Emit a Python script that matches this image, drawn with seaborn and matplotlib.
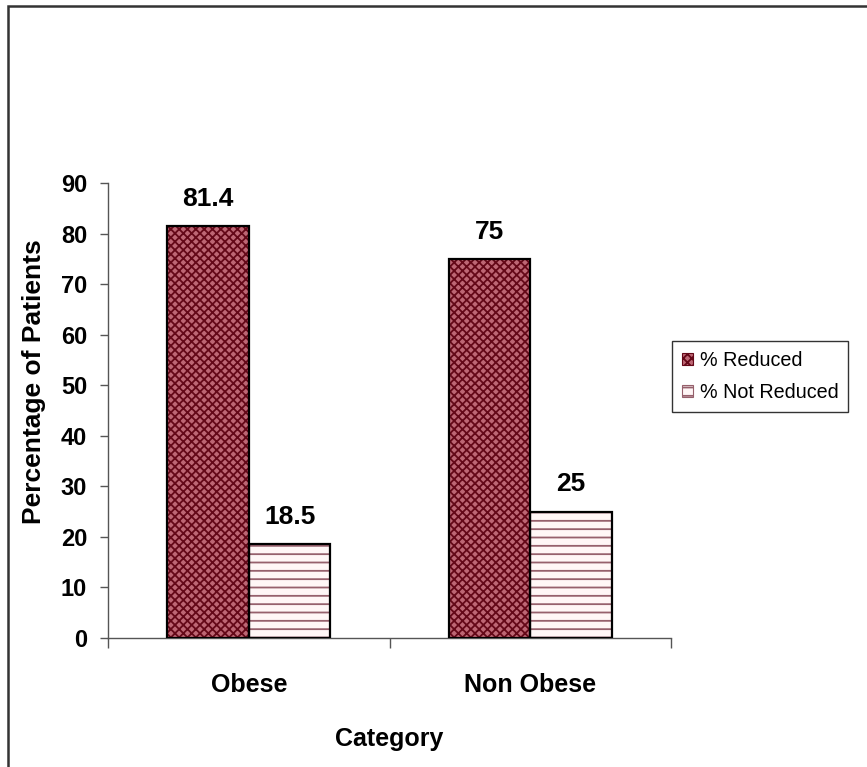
import matplotlib
matplotlib.use("Agg")
import matplotlib.pyplot as plt
from matplotlib.patches import Rectangle, Patch
from matplotlib.ticker import FixedLocator
import seaborn as sns
import pandas as pd

categories = ["Obese", "Non Obese"]
series = ["% Reduced", "% Not Reduced"]
reduced = [81.4, 75]
not_reduced = [18.5, 25]
y_ticks = [0, 10, 20, 30, 40, 50, 60, 70, 80, 90]

df = pd.DataFrame({
    "Category": categories * 2,
    "Series": [series[0]] * len(categories) + [series[1]] * len(categories),
    "Value": reduced + not_reduced,
})

sns.set_style("white")
plt.rcParams["font.family"] = ["Liberation Sans", "DejaVu Sans"]
plt.rcParams["hatch.linewidth"] = 1.3
for key in ("text.color", "axes.labelcolor", "xtick.labelcolor", "ytick.labelcolor"):
    plt.rcParams[key] = "black"

fill = {series[0]: "#bd6674", series[1]: "#fff6f6"}
hatch_col = {series[0]: "#640818", series[1]: "#96606c"}
hatches = {series[0]: "xxxx", series[1]: "--"}

fig = plt.figure(figsize=(8.67, 7.67), dpi=100)
ax = fig.add_axes([108 / 867, 1 - 638 / 767, (671 - 108) / 867, (638 - 183) / 767])

sns.barplot(data=df, x="Category", y="Value", hue="Series", order=categories,
            hue_order=series, palette=fill, width=0.58, ax=ax, legend=False,
            linewidth=0, saturation=1)

# patterned fill in the hatch colour, then a black outline on top
for cont, name in zip(ax.containers, series):
    for bar in cont:
        bar.set_hatch(hatches[name])
        bar.set_edgecolor(hatch_col[name])
        bar.set_linewidth(0)
        ax.add_patch(Rectangle(bar.get_xy(), bar.get_width(), bar.get_height(),
                               fill=False, edgecolor="black", linewidth=1.6, zorder=3))
    ax.bar_label(cont, labels=[f"{v:g}" for v in cont.datavalues], padding=11,
                 fontsize=19, fontweight="bold", color="black")

ax.set_xlim(-0.5, 1.5)
ax.set_ylim(0, 90)
ax.set_yticks(y_ticks)
ax.set_yticklabels([str(t) for t in y_ticks], fontsize=17, fontweight="bold")
ax.tick_params(axis="y", direction="out", length=6, width=1, color="#555555",
               pad=9, left=True)
ax.xaxis.set_minor_locator(FixedLocator([-0.5, 0.5, 1.5]))
ax.tick_params(axis="x", which="minor", direction="out", length=7, width=1,
               color="#555555", bottom=True)
ax.tick_params(axis="x", which="major", length=0, pad=25)
for lbl in ax.get_xticklabels():
    lbl.set_fontsize(18)
    lbl.set_fontweight("bold")

ax.set_xlabel("Category", fontsize=18, fontweight="bold", labelpad=22)
ax.set_ylabel("Percentage of Patients", fontsize=19, fontweight="bold")
ax.yaxis.set_label_coords(-0.11, 0.563)

for side in ("top", "right"):
    ax.spines[side].set_visible(False)
for side in ("left", "bottom"):
    ax.spines[side].set_color("#555555")
    ax.spines[side].set_linewidth(1)

handles = [Patch(facecolor=fill[s], edgecolor=hatch_col[s], hatch=hatches[s],
                 linewidth=0.8) for s in series]
leg = ax.legend(handles, series, loc="center left", bbox_to_anchor=(1.0, 0.575),
                fontsize=14.2, frameon=True, fancybox=False, edgecolor="black",
                handlelength=0.55, handleheight=0.55, handletextpad=0.35,
                borderpad=0.5, labelspacing=0.65, borderaxespad=0.05)
leg.get_frame().set_linewidth(1)

# outer chart frame
fig.add_artist(Rectangle((8 / 867, -0.2), 1.2, 1 - 6 / 767 + 0.2,
                         transform=fig.transFigure, fill=False,
                         edgecolor="#333333", linewidth=1.8))

fig.savefig("out.png", dpi=100)
